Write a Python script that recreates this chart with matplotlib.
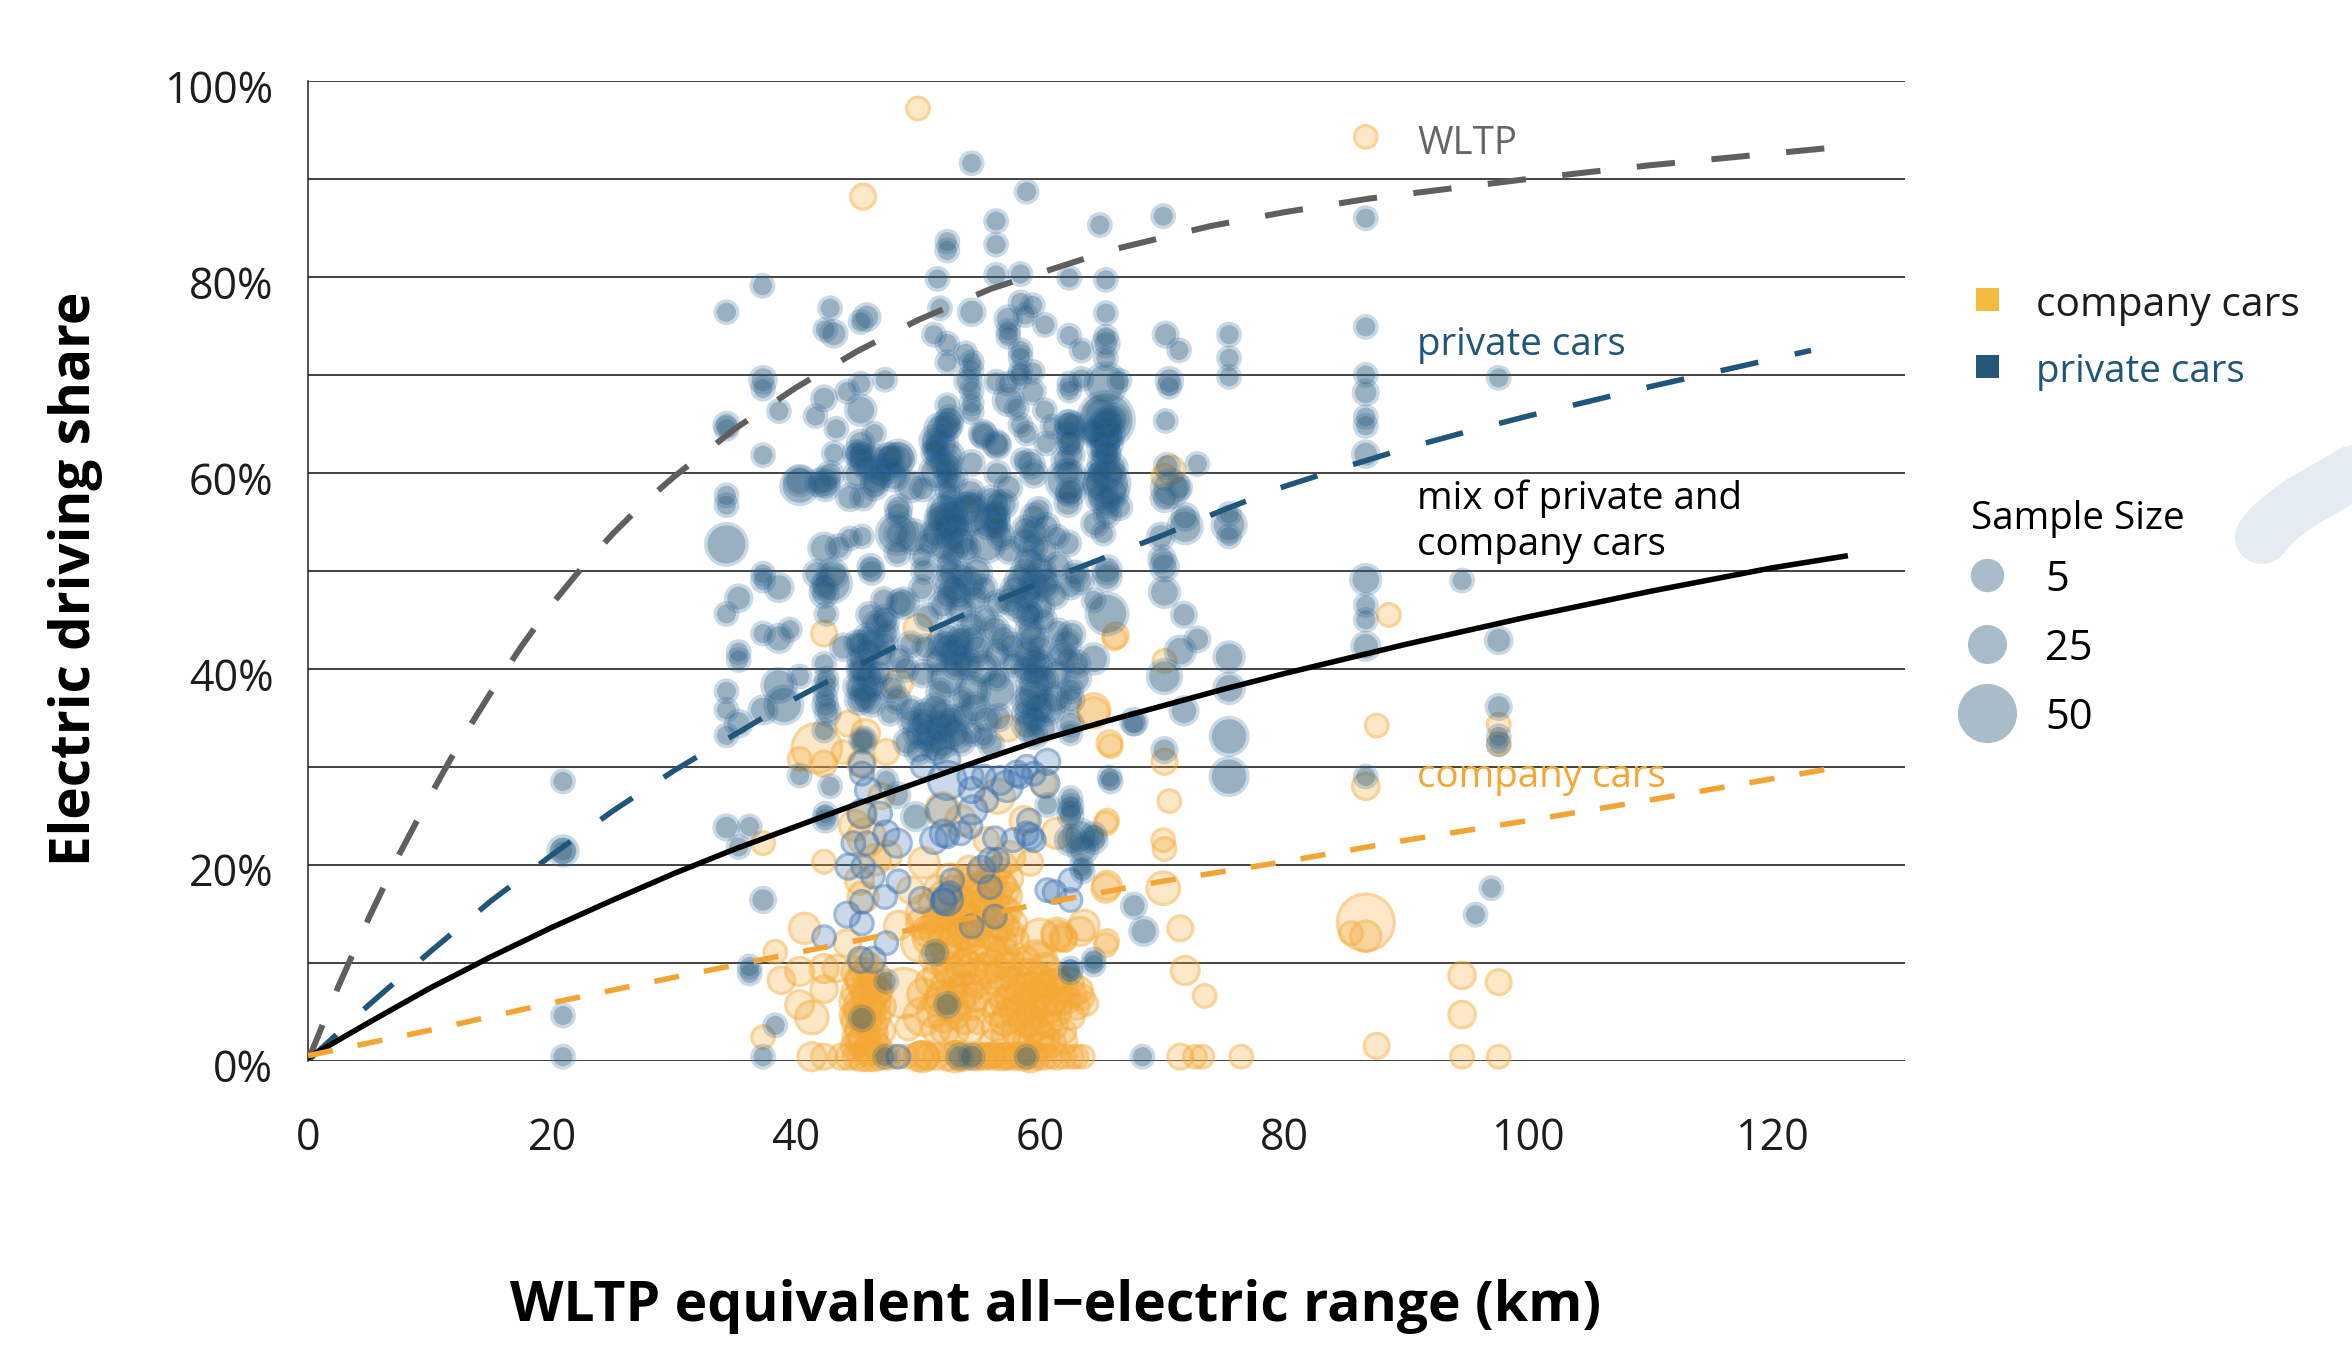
# -*- coding: utf-8 -*-
"""Electric driving share against WLTP all-electric range, read off the picture."""
import numpy as np
import matplotlib
matplotlib.use("Agg")
import matplotlib.pyplot as plt
from matplotlib.lines import Line2D
from matplotlib.patches import Rectangle
from matplotlib.transforms import ScaledTranslation

plt.rcParams["font.family"] = ["Open Sans", "DejaVu Sans"]

W, H = 2352, 1350

# Every point is (range km, electric share %, sample size)
private_top = [
    (54.4, 91.6, 5), (58.9, 88.7, 5), (56.4, 85.7, 5), (56.4, 83.3, 5), (52.4, 83.6, 5), (52.4, 82.7, 5),
    (64.9, 85.3, 5), (70.1, 86.2, 5), (51.6, 79.8, 5), (56.4, 80.2, 5), (58.4, 80.3, 5), (62.4, 79.9, 5),
    (65.4, 79.7, 5), (37.25, 79.1, 5), (34.3, 76.4, 5), (42.8, 76.8, 5), (45.8, 75.9, 10), (45.3, 75.4, 5),
    (42.4, 74.6, 5), (43.1, 74.2, 10), (51.8, 76.8, 5), (54.4, 76.4, 10), (58.4, 77.4, 5), (59.4, 77.1, 5),
    (57.4, 75.7, 10), (58.8, 76.1, 5), (60.4, 75.1, 5), (51.3, 74.1, 5), (52.4, 73.2, 5), (53.9, 72.2, 5),
    (62.4, 74, 5), (63.4, 72.5, 5), (65.4, 76.3, 5), (65.4, 73.9, 5), (65.4, 73.2, 10), (65.4, 71.7, 5),
    (70.3, 74.1, 8), (71.4, 72.5, 5), (75.5, 74.1, 5), (75.5, 71.7, 5), (75.5, 69.8, 5), (57.4, 73.9, 5),
    (57.4, 74.5, 5), (58.4, 72.5, 5), (58.4, 71.8, 5), (52.4, 71.3, 5), (54.4, 71.3, 5), (58.4, 70.3, 5),
    (58.3, 69.8, 5), (59.4, 70.3, 5), (56.4, 69.3, 5), (57.4, 69.1, 5), (54.1, 69.4, 10), (54.4, 70.5, 5),
    (54.4, 68.4, 5), (62.4, 69.1, 5), (63.4, 69.6, 5), (62.4, 68.4, 5), (66.5, 69.4, 5), (65.4, 69.1, 30),
    (70.6, 69.4, 10), (70.6, 68.8, 5), (37.3, 69.5, 10), (37.3, 68.6, 5), (47.3, 69.5, 5), (45.3, 69.1, 5),
    (44.2, 68.3, 5), (42.3, 67.6, 8), (38.6, 66.3, 5), (41.6, 65.8, 5), (45.3, 66.4, 15), (34.3, 64.9, 8),
    (34.3, 64.5, 5), (43.3, 64.5, 5), (46.4, 64, 5), (59.4, 68.3, 8), (57.4, 67.4, 15), (58.1, 66.6, 5),
    (60.4, 66.4, 5), (54.4, 67.1, 5), (54.4, 66.2, 5), (52.4, 66.9, 5), (58.4, 64.9, 5), (58.9, 64, 5),
    (61, 64.7, 5), (60.5, 63, 5), (62.4, 65, 10), (62.4, 63, 10), (65.4, 65.4, 50), (65.4, 65, 15),
    (64.4, 64, 10), (65.4, 62, 10), (65.4, 63.7, 15), (70.3, 65.3, 5), (52.4, 64.9, 15), (51.4, 63.3, 15),
    (51.4, 62.3, 5), (55.3, 64, 10), (56.4, 63, 10), (37.3, 61.8, 5), (43.1, 62, 5), (45.3, 63, 10),
    (45.3, 61.8, 10), (47.6, 61.6, 10), (48.4, 61.6, 20), (72.9, 60.9, 5), (70.4, 60.7, 8), (70.7, 58.4, 25),
    (70.2, 57.4, 10), (71.4, 58.5, 8), (75.5, 55.8, 5), (75.5, 53.5, 5), (75.5, 54.7, 20), (71.9, 55.5, 10),
    (71.9, 54.5, 20), (69.9, 53.5, 10),
]

private_mid = [
    (34.3, 57.7, 5), (34.3, 56.7, 5), (34.3, 52.7, 30), (40.3, 58.7, 25), (40.3, 59.2, 15), (42.4, 59.2, 12),
    (42.4, 58.6, 12), (44.4, 57.5, 10), (45.5, 57.5, 8), (45.4, 62, 10), (46.9, 59.8, 10), (47.7, 61.6, 12),
    (48.3, 61.3, 18), (49.4, 58.6, 15), (50.4, 58.4, 8), (48.4, 56.4, 10), (48.4, 55.8, 8), (48.3, 53.8, 30),
    (48.3, 53.8, 8), (42.3, 52.3, 15), (43.5, 52.4, 8), (44.4, 53.3, 5), (45.4, 53.5, 5), (37.3, 49.7, 5),
    (37.3, 49, 5), (38.6, 48.3, 12), (35.3, 47.2, 10), (34.3, 45.6, 5), (42.3, 47.7, 12), (42.3, 48.4, 10),
    (42.5, 45.6, 5), (41.7, 49.7, 10), (46.2, 49.9, 8), (46.1, 50.4, 8), (48.3, 51.8, 8), (47.2, 47, 8),
    (48.5, 46.7, 10), (52.4, 64.7, 10), (51.4, 62.1, 10), (52.4, 60.3, 10), (52.4, 59.4, 8), (52.4, 58.2, 5),
    (51.4, 63, 5), (54.4, 61, 8), (56.5, 62.8, 10), (56.5, 59.9, 8), (55.4, 63.8, 10), (59.2, 60.9, 12),
    (59.5, 59.9, 10), (58.6, 61.3, 5), (54.3, 57.9, 12), (54.4, 56.9, 8), (52.2, 56.2, 20), (53.9, 56.2, 20),
    (56.5, 56.9, 8), (56.5, 55.8, 8), (56.5, 54.8, 8), (56.5, 54.3, 8), (52.4, 54.5, 10), (52.8, 53.3, 12),
    (50.9, 52.8, 8), (50.3, 51.4, 5), (59.5, 55.5, 10), (58.8, 54.3, 8), (59.5, 52.5, 10), (57.5, 52.1, 10),
    (62.3, 56.9, 10), (62.3, 57.9, 5), (62.2, 59.2, 30), (62.3, 65, 10), (62.5, 63.2, 8), (64.7, 58.9, 12),
    (65.5, 62, 10), (65.5, 58.9, 35), (65.5, 65, 20), (64.4, 64.2, 10), (64.5, 54.8, 10), (62.3, 52.8, 8),
    (65.2, 53.8, 5), (61.4, 53.5, 5), (52.4, 50.7, 8), (54.3, 48.7, 15), (52.4, 48.7, 12), (52.4, 47.4, 8),
    (50.3, 48.2, 8), (56.5, 46.7, 8), (58.4, 49, 15), (59.2, 48, 8), (60, 46.3, 12), (59.2, 45.6, 5),
    (62.5, 48.4, 8), (62.9, 49.7, 8), (65.5, 50.1, 12), (65.5, 49.4, 12), (64.4, 47, 5), (65.5, 45.6, 30),
]

private_low = [
    (37.3, 43.6, 5), (38.6, 43.1, 12), (39.5, 44, 5), (35.3, 41.7, 5), (35.3, 40.9, 5), (34.3, 37.7, 5),
    (34.3, 35.8, 5), (34.3, 33.2, 5), (35.3, 34.4, 10), (37.3, 35.8, 12), (38.6, 38.3, 20), (39, 36.3, 25),
    (40.3, 39.2, 5), (42.3, 40.5, 5), (42.5, 39, 5), (42.4, 36.3, 8), (42.4, 37.1, 5), (45.8, 43.3, 8),
    (47.4, 43.6, 8), (45, 42.6, 8), (45.4, 39.9, 10), (46.3, 38.2, 10), (45.7, 37.1, 12), (45, 38.2, 10),
    (43.9, 42.2, 10), (50.6, 42.2, 8), (52.4, 42.2, 12), (53.5, 43.1, 8), (53.5, 41.2, 8), (54.8, 41.9, 15),
    (59.5, 40.7, 12), (59.5, 39.5, 8), (59.5, 37.3, 20), (57.8, 40.5, 8), (62.2, 42.6, 12), (59.2, 44, 12),
    (62.5, 37.8, 8), (62.5, 36.8, 10), (51.8, 37.6, 10), (53.6, 36.9, 5), (56.5, 37.8, 25), (56.5, 39, 5),
    (50.4, 39.5, 10), (49.4, 35.8, 10), (47.7, 35.4, 5), (50.4, 34.4, 10), (52.4, 34.2, 12), (49.1, 32.5, 10),
    (51, 32.7, 15), (54.4, 33.4, 8), (55.4, 33.1, 5), (58.9, 34.2, 12), (62.5, 34.4, 8), (62.5, 33.4, 5),
    (67.7, 34.4, 5), (42.3, 33.7, 5), (45.5, 32.7, 10), (45.5, 32.7, 5), (56, 32.2, 8), (40.3, 29.1, 5),
    (42.8, 28, 5), (47.4, 28.6, 5), (48.3, 27.1, 8), (65.7, 28.9, 5), (49.8, 24.9, 12), (62.5, 26.8, 5),
    (62.5, 25.6, 5), (60.6, 26.1, 5), (64.4, 23, 8), (62.5, 22.5, 15), (63.3, 22.9, 20), (42.4, 24.6, 8),
    (42.4, 25.2, 5), (34.3, 23.8, 8), (36.2, 23.9, 5), (35.3, 21.8, 5), (37.3, 16.4, 8), (63.4, 19.8, 5),
    (64.4, 10.3, 5), (36.2, 9.6, 5), (36.2, 8.9, 5), (38.3, 3.6, 5), (37.3, 0.4, 5), (45.4, 4.3, 8),
    (47.4, 8.1, 5), (52.4, 5.7, 8), (62.5, 9.4, 5), (51.4, 11, 8), (47.3, 0.4, 5), (53.4, 0.4, 8),
    (54.4, 0.4, 8), (58.9, 0.4, 5), (68.4, 0.4, 5), (20.9, 28.5, 5), (20.9, 21.4, 15), (20.9, 21.4, 5),
    (20.9, 4.6, 5), (20.9, 0.4, 5),
]

private_right = [
    (86.7, 86, 5), (86.7, 74.9, 5), (86.7, 70, 5), (86.7, 68.2, 8), (86.7, 65.7, 5), (86.7, 64.8, 5),
    (86.7, 61.9, 10), (97.6, 69.7, 5), (94.6, 49, 5), (86.7, 49.1, 15), (86.7, 46.5, 5), (86.7, 45, 5),
    (86.7, 42.3, 12), (97.6, 42.9, 10), (97.6, 36.1, 8), (97.6, 33.1, 5), (97.6, 32.3, 5), (86.7, 29, 5),
    (75.5, 41.2, 15), (75.5, 38, 15), (75.5, 33.1, 25), (75.5, 29, 25), (71.8, 35.7, 12), (67.7, 34.6, 10),
    (70.2, 39.2, 20), (71.5, 41.8, 15), (72.9, 43, 8), (70.2, 31.7, 8), (71.8, 45.5, 8), (70.2, 47.8, 15),
    (70.2, 50.4, 12), (70, 51.2, 10), (65.8, 28.5, 5), (62.5, 25.9, 8), (62.5, 25, 8), (64.4, 22.5, 10),
    (63.5, 21.6, 15), (63.5, 19.3, 5), (67.7, 15.8, 8), (68.5, 13.2, 12), (97, 17.6, 5), (95.7, 14.9, 5),
    (64.4, 9.8, 5), (62.5, 9, 5),
]

# the dark clumps, where single discs can only be estimated
private_clumps = [
    (45.4, 61.2, 12), (45.9, 60.5, 10), (46.3, 61.5, 12), (44.9, 62, 8), (45, 59.8, 10), (46.5, 59.2, 12),
    (46.9, 60.4, 10), (47.6, 60.4, 12), (48, 59.7, 15), (46.4, 58.6, 10), (41.9, 59, 10), (42.8, 59.8, 10),
    (51.8, 64.5, 15), (52.6, 65.5, 10), (52, 63, 15), (51.8, 61, 10), (52.6, 61.8, 12), (52.4, 60.8, 12),
    (53, 59.4, 8), (52.7, 57.3, 8), (51.5, 60, 20), (51.8, 55.3, 15), (52.4, 55, 15), (53.2, 54.5, 12),
    (52.9, 56, 10), (53.5, 53, 15), (54, 52.2, 10), (52.1, 52.5, 15), (52.9, 52, 10), (51.4, 53.8, 12),
    (52.7, 49.8, 10), (53, 48.2, 12), (53.6, 49.5, 10), (54.8, 49.8, 15), (53.4, 47.5, 12), (52, 46.5, 10),
    (53.5, 46, 12), (54.7, 47.2, 10), (55.4, 48.2, 10), (56.2, 55.5, 15), (57, 56.8, 12), (56, 57.2, 12),
    (56.8, 53.5, 10), (55.8, 55, 20), (59.5, 54, 12), (58.8, 53, 12), (59.2, 51, 12), (60, 50, 15),
    (58.8, 50, 12), (59.5, 48.8, 15), (60.4, 48.4, 12), (59, 47.2, 12), (60.5, 54.5, 10), (59.9, 56.2, 8),
    (60.4, 52, 10), (58, 48, 15), (57.5, 47, 12), (58.2, 46.3, 12), (60.3, 45, 8), (59, 45.5, 12),
    (61.2, 47.5, 10), (59.4, 43, 15), (60, 42, 12), (59, 41.5, 15), (60, 40.3, 15), (58.8, 40, 12),
    (59.5, 38.5, 20), (60.4, 38.8, 10), (59, 36.6, 15), (59.9, 36, 15), (59.5, 34.8, 12), (58.9, 35.5, 12),
    (60.2, 34, 12), (59.5, 33.2, 10), (65.5, 64, 20), (65.5, 63, 15), (65.2, 61, 15), (65.9, 60.5, 15),
    (65.5, 59.8, 20), (66, 58, 15), (65, 57.5, 15), (65.5, 57, 15), (64.8, 60, 10), (65, 62.5, 10),
    (66, 65.5, 15), (65, 66, 20), (65.5, 55.8, 10), (66.5, 56.5, 8), (62.3, 64, 12), (62.8, 64.8, 10),
    (62, 61.3, 8), (62.6, 61.8, 8), (62.3, 60, 10), (62.5, 58, 12), (45.4, 41, 12), (45.9, 41.8, 10),
    (45.3, 42.5, 10), (46.3, 42.8, 12), (45.4, 40, 15), (46, 39.3, 12), (45.6, 38, 15), (45.2, 36.8, 12),
    (46.2, 36.5, 10), (46.8, 39.6, 10), (47.3, 42.5, 8), (47, 41.4, 8), (42.4, 38.2, 8), (42.6, 35.5, 8),
    (50.6, 35.4, 12), (51.4, 36, 12), (52, 35.2, 15), (51.7, 34, 15), (52.7, 34.8, 12), (53, 33.4, 15),
    (50.9, 33.4, 15), (52, 32.4, 15), (50, 33.4, 12), (49.5, 34.6, 10), (53.7, 35.2, 8), (53.5, 32.6, 12),
    (51.5, 31.8, 12), (50, 31.6, 10), (51.8, 42.4, 12), (52.5, 43.3, 10), (52.9, 41.6, 15), (53.2, 40.5, 15),
    (54, 40.5, 15), (53.3, 42.5, 12), (54.4, 43, 12), (54.4, 44.5, 10), (51.6, 40.8, 10), (46, 45.5, 8),
    (46.6, 44.5, 10), (47.2, 45.2, 8), (47.4, 44.8, 8), (62.6, 43.5, 10), (61.8, 41.5, 10), (62.3, 41, 8),
    (61.5, 43.8, 8), (49.6, 53.5, 20), (55.6, 52.8, 25), (52.4, 55, 30), (54.3, 55.8, 30), (52.4, 39.2, 25),
    (54.5, 37.8, 20), (60.6, 36, 20), (43, 48.7, 25), (43, 49.7, 15), (48.8, 46.7, 15), (63.3, 49, 10),
    (60.5, 49, 12), (50.8, 45.3, 10), (55.5, 45, 10), (56.3, 44, 12), (57, 43, 12), (57.7, 42.3, 10),
    (55.3, 40, 20), (56.5, 41.5, 12), (48.5, 41, 8), (49, 40, 8), (49.4, 42.5, 8), (47.8, 38, 10),
    (48.3, 36.8, 10), (54.6, 36, 15), (55.6, 34.8, 12), (56.6, 35, 10), (61.3, 39.5, 12), (61.3, 37, 15),
    (63, 39, 12), (63, 40.5, 10), (64.4, 41, 15), (61.5, 50.5, 10), (57.4, 58.5, 10), (50.5, 50, 8),
]

# the paler private cars with a stronger ring, mostly between 10 and 30 %
private_pale = [
    (45.4, 30.3, 8), (45.4, 29.3, 5), (45.9, 27.6, 8), (45.4, 25.2, 12), (46.9, 25.2, 5), (47.4, 23.2, 8),
    (48.3, 22.2, 12), (44.7, 22.2, 5), (45.8, 22.2, 5), (50.4, 30, 5), (52.4, 30.7, 8), (54.3, 29, 8),
    (55.4, 29, 5), (54.4, 27.6, 8), (55.6, 26.6, 5), (52.4, 28.6, 25), (52, 25.6, 15), (54.5, 25.6, 12),
    (58.4, 29, 5), (58.9, 30, 5), (59.5, 29.3, 5), (58.1, 29.3, 8), (60.6, 30.5, 8), (60.4, 28.3, 12),
    (57.3, 28, 15), (56.7, 28.6, 12), (52.1, 23.2, 10), (53.5, 23.2, 5), (52.4, 22.9, 5), (54.3, 23.9, 5),
    (51.3, 22.5, 10), (56.3, 22.7, 5), (57.8, 22.5, 5), (59.1, 24.5, 5), (58.9, 23.2, 5), (59.2, 22.9, 8),
    (59.5, 22.5, 5), (44.3, 19.8, 8), (45.5, 19.8, 5), (46.3, 18.8, 5), (48.4, 18.3, 5), (47.3, 16.7, 5),
    (45.4, 16.2, 5), (44.2, 14.9, 8), (45.4, 14, 5), (47.4, 12, 5), (42.3, 12.6, 5), (45.3, 10.3, 8),
    (46.3, 10.3, 8), (50.3, 16.4, 8), (52.4, 16.4, 15), (52.1, 16.2, 8), (52.8, 18.4, 5), (52.6, 17.1, 5),
    (52.1, 16.4, 5), (55.9, 20.5, 5), (56.5, 20.5, 5), (55.2, 19.5, 10), (55.9, 17.7, 5), (56.3, 14.7, 5),
    (54.4, 13.7, 5), (60.6, 17.4, 5), (61.2, 17.2, 5), (62.5, 16.4, 5), (62.5, 18.4, 5), (48.4, 0.4, 5),
]

company_scattered = [
    (50, 97.2, 5), (45.5, 88.2, 8), (86.7, 94.3, 5), (70.7, 60.3, 12), (70.2, 59.6, 8), (66.1, 43.1, 5),
    (70.2, 40.8, 5), (64.4, 35.5, 15), (65.8, 32.1, 5), (70.2, 30.5, 8), (70.6, 26.5, 5), (70.1, 22.5, 5),
    (70.2, 21.6, 5), (65.4, 24.2, 5), (65.4, 17.6, 12), (70.1, 17.6, 18), (71.5, 13.5, 8), (71.9, 9.2, 12),
    (73.5, 6.6, 5), (88.6, 45.5, 5), (87.6, 34.2, 5), (86.7, 28, 10), (86.7, 14.1, 50), (86.7, 12.7, 15),
    (85.5, 13, 5), (94.6, 8.7, 10), (97.6, 8, 8), (94.6, 4.7, 10), (87.6, 1.5, 8), (97.6, 34.3, 5),
    (97.6, 32.3, 5), (94.6, 0.4, 5), (97.6, 0.4, 5), (76.5, 0.4, 5), (73.3, 0.4, 5), (72.7, 0.4, 5),
    (71.5, 0.4, 8), (65.4, 11.8, 5), (63.3, 13.2, 12), (61.4, 12.7, 15), (62, 12.4, 8), (59.7, 10.1, 30),
    (63.8, 5.8, 5), (63, 5.5, 8), (42.3, 43.6, 8), (66.2, 43.4, 8), (64.4, 35.8, 18), (65.7, 32.4, 8),
    (65.5, 24.5, 5), (41.7, 31.9, 40), (44.3, 34.4, 8), (45.7, 33.4, 12), (40.3, 30.8, 5), (42.3, 30.3, 8),
    (43.9, 31.5, 5), (47.4, 31.5, 8), (45.4, 30.3, 12), (48.4, 38.5, 12), (50, 44.1, 12), (57.4, 33.9, 8),
    (56.5, 27, 20), (52, 25.6, 20), (61.4, 23.2, 15), (60.3, 28.3, 8), (45.4, 25.1, 10), (45.8, 22.8, 25),
    (37.3, 22.2, 5), (42.3, 20.3, 5), (40.7, 13.5, 15), (38.3, 11.1, 5), (37.3, 2.4, 5), (38.8, 8.2, 10),
    (40.3, 9.1, 12), (42.3, 9.4, 12), (40.3, 5.7, 12), (41.3, 4.4, 18), (42.3, 7.3, 10), (41.3, 0.4, 12),
    (42.3, 0.4, 8), (44.2, 12, 10), (45.5, 16.7, 15), (43.3, 9.4, 10), (48.4, 13.8, 12), (49.2, 3.4, 8),
    (65.5, 17.9, 12), (65.5, 12.2, 5), (63.6, 13.8, 15), (61.4, 13, 15), (61.9, 12.6, 10), (60, 12.5, 25),
    (59.9, 10.4, 15), (48.8, 6.9, 40), (50.4, 4.5, 25), (50.2, 12, 25), (47.5, 21, 12), (44.8, 24, 15),
    (46.5, 20.5, 15), (45.2, 18.4, 12), (47, 27, 8), (53.5, 24.5, 15), (55.6, 22.5, 8), (58.7, 24.5, 12),
    (57.5, 20.8, 15), (59.2, 20.2, 8), (50.5, 20.2, 15), (49.4, 17.4, 10),
]

company_left_column = [
    (45, 9, 15), (45.5, 8, 18), (46, 7.5, 15), (46.5, 7, 15), (45, 6, 20), (45.5, 5.5, 25), (46, 5, 18),
    (46.5, 4.5, 15), (45, 4, 15), (45.4, 4.2, 15), (46.2, 3.6, 15), (45, 2.5, 12), (45.6, 2.2, 15),
    (46.3, 2, 12), (45.4, 3, 18), (46, 6.4, 20), (46.6, 6, 12), (44.9, 7, 12), (47, 5.5, 12), (47, 3, 10),
    (45.5, 10, 12), (46, 9.5, 12), (46.6, 8.5, 12), (44.8, 1.5, 10), (46, 1.2, 15), (45.2, 8.3, 12),
    (45.7, 6.9, 12), (46.3, 8.1, 10), (45.1, 5, 12), (45.8, 3.8, 12), (46.4, 2.8, 10), (45.2, 1.8, 10),
    (46.7, 1.4, 10), (45.9, 0.9, 12), (46.2, 5.6, 10), (45.6, 9.1, 10), (46.9, 7.2, 8), (44.7, 4.6, 10),
]

company_zero_share = [
    (43.7, 0.4, 8), (44.3, 0.4, 8), (44.9, 0.4, 8), (45.4, 0.4, 12), (45.9, 0.4, 12), (46.4, 0.4, 12),
    (46.9, 0.4, 8), (47.5, 0.4, 8), (48.1, 0.4, 5), (49.1, 0.4, 5), (50, 0.4, 12), (50.4, 0.4, 15),
    (50.8, 0.4, 8), (51.5, 0.4, 8), (52.4, 0.4, 10), (53, 0.4, 15), (53.5, 0.4, 12), (54, 0.4, 8),
    (54.8, 0.4, 10), (55.4, 0.4, 8), (56, 0.4, 8), (56.5, 0.4, 8), (57, 0.4, 10), (57.5, 0.4, 8),
    (58, 0.4, 8), (58.6, 0.4, 10), (59.2, 0.4, 15), (59.8, 0.4, 8), (60.3, 0.4, 8), (60.9, 0.4, 5),
    (61.4, 0.4, 8), (62, 0.4, 5), (62.6, 0.4, 5), (63, 0.4, 5), (63.5, 0.4, 5), (50.2, 0.6, 10),
    (50.6, 0.5, 10), (53.2, 0.6, 10), (55, 0.5, 8), (55.7, 0.5, 8), (56.2, 0.6, 8), (57.2, 0.5, 8),
    (58.2, 0.6, 8), (59, 0.5, 10), (59.5, 0.6, 8),
]

company_centre = [
    (50.3, 14, 15), (50.6, 15, 25), (51, 12.5, 20), (51.3, 16, 15), (51.4, 13.5, 18), (51.4, 10.5, 15),
    (51.6, 17.5, 10), (52, 14.8, 15), (52.2, 12, 20), (52.4, 9.5, 15), (52.6, 15.8, 18), (52.9, 13.2, 12),
    (53.2, 11.3, 15), (53.3, 16.5, 12), (53.5, 18.5, 10), (53.6, 14.3, 20), (53.9, 10, 12), (54.2, 12.6, 15),
    (54.4, 15.5, 15), (54.5, 17.5, 12), (54.8, 8.8, 15), (55, 13.8, 12), (55.3, 11.5, 18), (55.4, 16.2, 10),
    (55.7, 18.6, 8), (55.9, 14.8, 15), (56, 9.6, 18), (56.2, 12.8, 15), (56.5, 17, 12), (56.5, 19.5, 10),
    (56.8, 15.3, 18), (57, 11, 15), (57.1, 13.7, 12), (57.4, 16.8, 10), (57.5, 18.6, 10), (57.5, 10, 12),
    (57.9, 14, 8), (58, 12.2, 10), (50.4, 6.8, 15), (51, 8, 12), (51.2, 5, 15), (51.5, 3.2, 12),
    (51.9, 6.5, 15), (52.1, 4.5, 15), (52.4, 7.5, 18), (52.8, 5.5, 15), (53, 3, 12), (53.2, 8.3, 12),
    (53.4, 6.2, 15), (53.8, 4.2, 12), (54, 7.3, 18), (54.4, 5.6, 12), (54.8, 7.9, 12), (55, 4, 8),
    (50.8, 13.2, 15), (51.7, 14.6, 15), (52.1, 13.5, 18), (52.5, 11, 15), (52.8, 14.6, 15), (53, 12.4, 15),
    (53.5, 15.4, 15), (53.7, 12.9, 15), (54.1, 14.5, 15), (54.4, 11.2, 15), (54.7, 13.2, 15), (55.2, 15, 15),
    (55.6, 13.1, 15), (55.9, 11.3, 15), (56.3, 15.8, 12), (56.6, 14, 15), (56.9, 12.2, 12), (57.3, 15.2, 12),
    (56, 17.5, 10), (54.9, 16.6, 12), (52.7, 9, 15), (53.6, 9.2, 15), (54.4, 9.4, 15), (55.5, 9.3, 15),
    (56.6, 10.2, 15), (51.7, 8.8, 15), (52.7, 6.6, 15), (53.1, 4.7, 12), (52.2, 3, 10), (54.3, 3.2, 10),
    (51.6, 6, 12), (53.6, 7.4, 15), (54.7, 6.5, 12), (52, 16.8, 12), (52.9, 17.4, 12), (53.8, 17.6, 12),
    (54.5, 18.6, 10), (55.2, 17.8, 12), (55.8, 16, 12), (56.2, 18.6, 10), (56.9, 18, 10), (57.2, 17.4, 10),
    (55.1, 19.2, 8), (53.9, 16.2, 12), (52.6, 18.8, 8), (54.2, 19.6, 8), (57, 20, 8), (57.6, 13, 10),
]

company_right_column = [
    (55.8, 6, 12), (56.3, 8.3, 15), (56.4, 3.5, 12), (56.6, 5, 15), (56.9, 7, 18), (57.2, 2.5, 12),
    (57.4, 9.6, 12), (57.5, 4.6, 18), (57.8, 6.4, 20), (58.1, 8.2, 15), (58.2, 3, 15), (58.5, 5.3, 15),
    (58.6, 7.2, 18), (58.8, 10.2, 12), (59, 2, 12), (59.2, 4, 15), (59.4, 6, 20), (59.5, 8.6, 18),
    (59.9, 2.8, 15), (60, 5, 15), (60.3, 7.4, 12), (60.4, 9.4, 15), (60.6, 3.8, 12), (60.9, 6.2, 15),
    (61, 1.8, 10), (61.2, 8.5, 12), (61.4, 5, 12), (61.6, 7, 10), (61.9, 3, 8), (62.2, 6.2, 10),
    (62.4, 8, 12), (62.6, 4.5, 8), (62.7, 6.8, 10), (63.2, 7.2, 10), (63.4, 6.5, 8), (62, 2, 8), (60, 1.5, 12),
    (56.8, 8.8, 15), (57.2, 6, 15), (57.6, 8, 15), (58, 5, 15), (58.3, 6.3, 15), (58.8, 4, 15),
    (58.9, 8.8, 15), (59.1, 7.4, 15), (59.3, 5, 15), (59.8, 6.8, 15), (60, 8.2, 15), (60.2, 6, 15),
    (60.6, 5.2, 12), (60.8, 7.8, 12), (61.1, 3.6, 12), (61.5, 6, 12), (61.9, 7.4, 12), (59.6, 3.4, 12),
    (58.4, 1.9, 10), (57.1, 4, 12), (56.1, 1.8, 8), (60.5, 2.2, 10), (61.4, 8, 10),
]

# the four curves
wltp_km = [0, 2.5, 5, 7.5, 10, 12.5, 15, 17.5, 20, 22.5, 25, 27.5, 30, 35, 40, 45, 50, 56, 66, 74, 80, 87, 100, 110, 125]
wltp_share = [0, 7.6, 14.6, 21.1, 27, 32.6, 37.6, 42.3, 46.6, 50.4, 53.8, 56.9, 59.6, 64.5, 68.7, 72.4, 75.6, 78.8,
              82.8, 85.2, 86.6, 88, 90, 91.4, 93.2]
private_km = [0, 5, 10, 15, 20, 25, 30, 35, 40, 45, 50, 55, 60, 65, 70, 75, 80, 85, 90, 95, 100, 105, 110, 115, 120, 123.2]
private_share = [0, 5.7, 11.1, 16.3, 21, 25.5, 29.6, 33.3, 37, 40.3, 43.4, 46.2, 48.8, 51.2, 53.6, 56.2, 58.6, 60.6,
                 62.5, 64.2, 65.8, 67.3, 68.8, 70.2, 71.6, 72.5]
mix_km = [0, 5, 10, 15, 20, 25, 30, 35, 40, 45, 50, 55, 60, 65, 70, 75, 80, 85, 90, 95, 100, 105, 110, 115, 120, 126]
mix_share = [0.3, 3.9, 7.4, 10.6, 13.6, 16.4, 19.1, 21.6, 23.9, 26.2, 28.4, 30.6, 32.7, 34.5, 36.2, 37.9, 39.5, 41,
             42.5, 43.9, 45.3, 46.6, 47.9, 49.1, 50.3, 51.5]
company_km = [0, 10, 20, 30, 40, 50, 60, 70, 80, 90, 100, 110, 125.7]
company_share = [0.5, 3.1, 5.9, 8.5, 11, 13.5, 16, 18.3, 20.3, 22.5, 24.5, 26.6, 30]

x_ticks = [0, 20, 40, 60, 80, 100, 120]
y_ticks = [0, 20, 40, 60, 80, 100]
y_lines = [0, 10, 20, 30, 40, 50, 60, 70, 80, 90, 100]
legend_sizes = [5, 25, 50]

GREY = "#5F5F5F"
BLUE = "#1F567A"
TEXT = "#1D1D1B"
RING = 3.3  # px


def fx(x):
    return x / W


def fy(y):
    return 1 - y / H


def px_to_pt(v):
    return v * 72 / 100


def radius(n):
    return 11 + 0.38 * n


def bubbles(ax, rows, fill, ring, z):
    """Fill and outer ring are drawn apart so the ring sits outside the disc."""
    data = np.array(rows, dtype=float)
    r = radius(data[:, 2])
    ax.scatter(data[:, 0], data[:, 1], s=(2 * px_to_pt(r - RING)) ** 2, color=fill,
               linewidths=0, clip_on=False, zorder=z)
    ax.scatter(data[:, 0], data[:, 1], s=(2 * px_to_pt(r - RING / 2)) ** 2, facecolors="none",
               edgecolors=[ring], linewidths=px_to_pt(RING), clip_on=False, zorder=z + 0.1)


fig = plt.figure(figsize=(W / 100, H / 100), dpi=100)
ax = fig.add_axes([fx(308), fy(1060.6), fx(1905 - 308), (1060.6 - 81) / H])
ax.set_xlim(0, (1905 - 308) / 12.2)
ax.set_ylim(0, 100)
for side in ["top", "right", "bottom"]:
    ax.spines[side].set_visible(False)
ax.spines["left"].set_linewidth(1.1)
ax.spines["left"].set_color("#222222")

for v in y_lines:
    ax.axhline(v, color="#111111", lw=1.1, zorder=1)

bubbles(ax, company_scattered + company_left_column + company_zero_share + company_centre + company_right_column,
        (0.957, 0.659, 0.2, 0.27), (0.957, 0.659, 0.2, 0.5), 2)
bubbles(ax, private_pale, (0.235, 0.45, 0.686, 0.27), (0.235, 0.45, 0.686, 0.5), 3)
bubbles(ax, private_top + private_mid + private_low + private_right + private_clumps,
        (0.145, 0.345, 0.478, 0.47), (0.157, 0.392, 0.608, 0.25), 4)

ax.plot(wltp_km, wltp_share, color=GREY, lw=px_to_pt(6), dashes=(6.4, 6.1), dash_capstyle="butt", zorder=6)
ax.plot(private_km, private_share, color=BLUE, lw=px_to_pt(5.5), dashes=(7, 6.8), dash_capstyle="butt", zorder=6)
ax.plot(mix_km, mix_share, color="black", lw=px_to_pt(5.5), zorder=6)
ax.plot(company_km, company_share, color="#F2A534", lw=px_to_pt(5.5), dashes=(4.6, 4.6), dash_capstyle="butt", zorder=6)

ax.set_xticks(x_ticks)
ax.set_yticks(y_ticks)
ax.set_yticklabels([f"{v}%" for v in y_ticks])
ax.tick_params(axis="both", length=0, labelsize=31, labelcolor=TEXT)
ax.tick_params(axis="y", pad=25)
ax.tick_params(axis="x", pad=40)
shift = ScaledTranslation(0, -5 / 100, fig.dpi_scale_trans)
for label in ax.get_yticklabels():
    label.set_transform(label.get_transform() + shift)

fig.text(fx(76), fy(579), "Electric driving share", rotation=90, ha="center", va="center",
         fontsize=39.5, fontweight="bold", color="black")
fig.text(fx(1056), fy(1307), "WLTP equivalent all\u2212electric range (km)", ha="center", va="center",
         fontsize=39.8, fontweight="bold", color="black")

# labels on the curves
ax.text(90.9, 93.6, "WLTP", fontsize=27.7, color="#666666", va="center")
ax.text(90.9, 73.0, "private cars", fontsize=27.7, color=BLUE, va="center")
ax.text(90.9, 55.0, "mix of private and\ncompany cars", fontsize=27.7, color="black", va="center", linespacing=1.3)
ax.text(90.9, 29.0, "company cars", fontsize=27.7, color="#F4A733", va="center")

# legend, placed by hand as in the original
for top, colour in zip([288, 355], ["#F4BB40", "#245677"]):
    fig.add_artist(Rectangle((fx(1976), fy(top + 23)), 23 / W, 23 / H, transform=fig.transFigure, color=colour, lw=0))
fig.text(fx(2036), fy(306), "company cars", fontsize=29.3, color=TEXT, va="center")
fig.text(fx(2036), fy(372), "private cars", fontsize=27.7, color=BLUE, va="center")
fig.text(fx(1971), fy(519), "Sample Size", fontsize=27.7, color="black", va="center")
for n, y, r in zip(legend_sizes, [575, 644, 713], [16.7, 19.5, 29.6]):
    fig.add_artist(Line2D([fx(1987)], [fy(y)], marker="o", ms=px_to_pt(2 * r), mfc="#A9BCC9", mew=0,
                          transform=fig.transFigure))
    fig.text(fx(2045), fy(y + 5), str(n), fontsize=30, color="black", va="center")

# pale brush stroke at the right edge
fig.add_artist(Line2D([fx(2262), fx(2272), fx(2285), fx(2300), fx(2340), fx(2420)],
                      [fy(537), fy(525), fy(514), fy(503), fy(480), fy(433)], color="#E4EBF1",
                      lw=px_to_pt(54), solid_capstyle="round", solid_joinstyle="round",
                      transform=fig.transFigure, zorder=0))

fig.savefig("out.png", dpi=100, facecolor="white")
